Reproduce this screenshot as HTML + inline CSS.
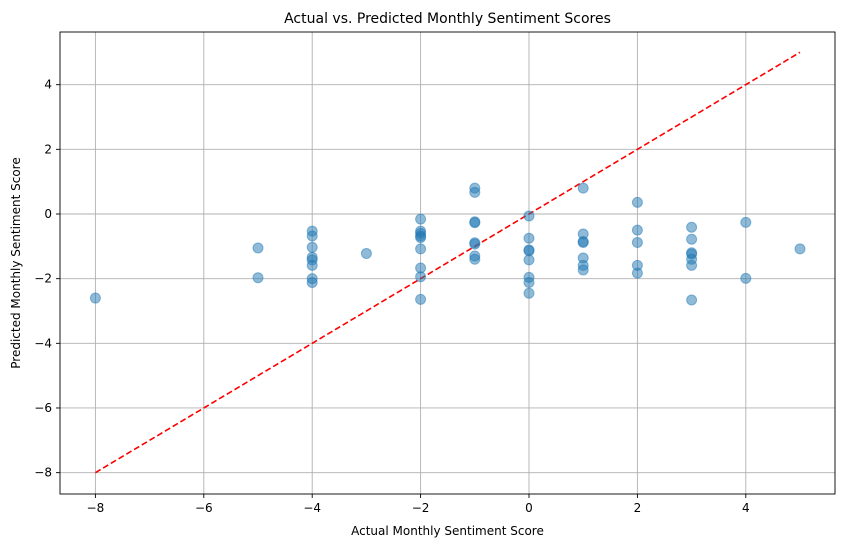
<!DOCTYPE html>
<html><head><meta charset="utf-8"><style>
body{margin:0;background:#fff;font-family:"Liberation Sans","DejaVu Sans",sans-serif;}
svg text{font-family:"DejaVu Sans","Liberation Sans",sans-serif;}
</style></head><body>
<svg id="chart" width="844" height="547" viewBox="0 0 844 547" xmlns="http://www.w3.org/2000/svg">
<rect width="844" height="547" fill="#fff"/>
<g id="grid"></g>
<g id="diag"></g>
<g id="pts"></g>
<rect x="60" y="32" width="775" height="462" fill="none" stroke="#000" stroke-width="0.9"/>
<g id="ticks"></g>
<text x="447.5" y="23" text-anchor="middle" font-size="14">Actual vs. Predicted Monthly Sentiment Scores</text>
<text x="447.5" y="535" text-anchor="middle" font-size="12">Actual Monthly Sentiment Score</text>
<text x="20" y="263" text-anchor="middle" font-size="12" transform="rotate(-90 20 263)">Predicted Monthly Sentiment Score</text>
</svg>
<script>
const actual = [-8,-5,-5,-4,-4,-4,-4,-4,-4,-4,-4,-3,-2,-2,-2,-2,-2,-2,-2,-2,-2,-1,-1,-1,-1,-1,-1,-1,-1,0,0,0,0,0,0,0,0,1,1,1,1,1,1,1,2,2,2,2,2,3,3,3,3,3,3,3,4,4,5];
const predicted = [-2.6,-1.05,-1.97,-0.53,-0.68,-1.03,-1.34,-1.42,-1.59,-2.0,-2.12,-1.22,-0.16,-0.53,-0.6,-0.68,-0.73,-1.08,-1.67,-1.94,-2.64,0.8,0.67,-0.24,-0.27,-0.89,-0.93,-1.3,-1.4,-0.06,-0.75,-1.11,-1.14,-1.42,-1.96,-2.12,-2.45,0.8,-0.62,-0.85,-0.88,-1.36,-1.59,-1.73,0.36,-0.5,-0.88,-1.59,-1.83,-0.41,-0.78,-1.2,-1.24,-1.4,-1.59,-2.66,-0.26,-1.99,-1.08];
const xTicks = [-8,-6,-4,-2,0,2,4];
const yTicks = [-8,-6,-4,-2,0,2,4];
const lineRange = [-8,5];
const NS="http://www.w3.org/2000/svg";
const X = v => 529 + v*54.2;
const Y = v => 214 - v*32.33;
function mk(tag, attrs, parent){const e=document.createElementNS(NS,tag);for(const k in attrs)e.setAttribute(k,attrs[k]);document.getElementById(parent).appendChild(e);return e;}
xTicks.forEach(t=>{
  const g=mk('line',{x1:X(t),x2:X(t),y1:32,y2:494,stroke:'#b0b0b0','stroke-width':0.9},'grid');
  
  
  mk('line',{x1:X(t),x2:X(t),y1:494,y2:498,stroke:'#000','stroke-width':0.9},'ticks');
  const tx=mk('text',{x:X(t),y:512,'text-anchor':'middle','font-size':12},'ticks');
  tx.textContent=(t<0?'\u2212'+(-t):t);
  
  
});
yTicks.forEach(t=>{
  const g=mk('line',{x1:60,x2:835,y1:Y(t),y2:Y(t),stroke:'#b0b0b0','stroke-width':0.9},'grid');
  
  
  mk('line',{x1:56,x2:60,y1:Y(t),y2:Y(t),stroke:'#000','stroke-width':0.9},'ticks');
  const tx=mk('text',{x:52,y:Y(t)+4,'text-anchor':'end','font-size':12},'ticks');
  tx.textContent=(t<0?'\u2212'+(-t):t);
  
  
});
const dl=mk('line',{x1:X(lineRange[0]),y1:Y(lineRange[0]),x2:X(lineRange[1]),y2:Y(lineRange[1]),stroke:'#ff0000','stroke-width':1.6,'stroke-dasharray':'6,3'},'diag');


actual.forEach((a,i)=>{
  const c=mk('circle',{cx:X(a),cy:Y(predicted[i]),r:5,fill:'#1f77b4','fill-opacity':0.5,stroke:'#1f77b4','stroke-opacity':0.5,'stroke-width':1},'pts');
  
  
});
</script>
</body></html>
